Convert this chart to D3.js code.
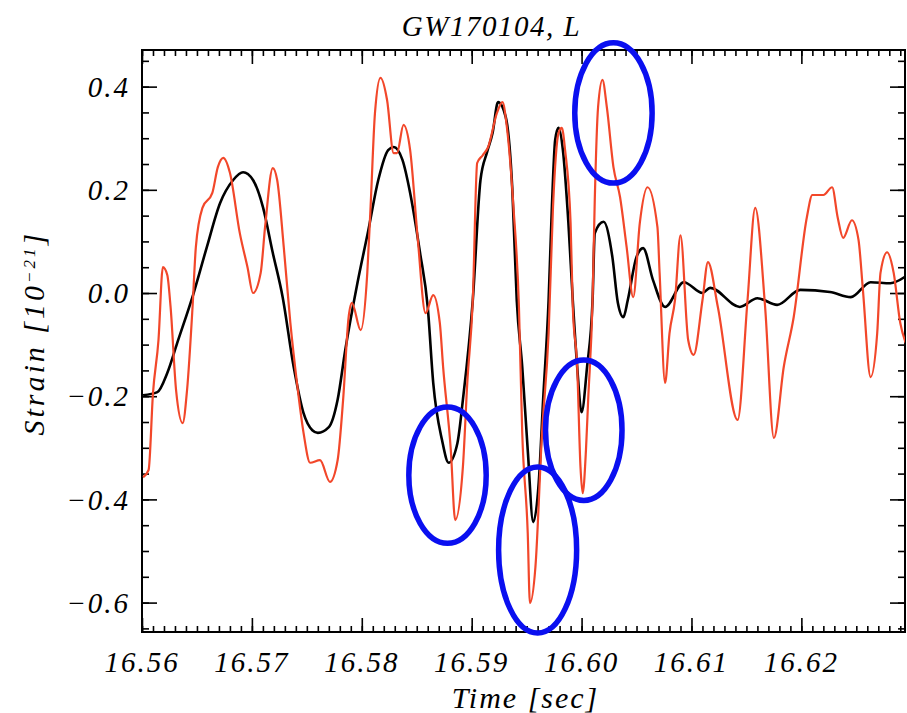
<!DOCTYPE html>
<html>
<head>
<meta charset="utf-8">
<script src="https://cdn.jsdelivr.net/npm/d3@7"></script>
<style>
  body { margin: 0; background: #fff; }
  text { font-family: "Liberation Serif", serif; font-style: italic; fill: #000; }
</style>
</head>
<body>
<svg></svg>
<script>
// Chart values
const titleText = "GW170104, L";
const xTickValues = [16.56, 16.57, 16.58, 16.59, 16.60, 16.61, 16.62];
const xTickLabels = ["16.56", "16.57", "16.58", "16.59", "16.60", "16.61", "16.62"];
const yTickValues = [0.4, 0.2, 0.0, -0.2, -0.4, -0.6];
const yTickLabels = ["0.4", "0.2", "0.0", "\u22120.2", "\u22120.4", "\u22120.6"];

// black: reconstructed waveform
const modelTime = [16.5601, 16.5614, 16.5623, 16.5632, 16.5647, 16.5659, 16.5671, 16.5683, 16.5692, 16.5701,
  16.5710, 16.5719, 16.5728, 16.5738, 16.5747, 16.5755, 16.5760, 16.5770, 16.5778, 16.5785,
  16.5796, 16.5806, 16.5815, 16.5824, 16.5829, 16.5837, 16.5844, 16.5853, 16.5860, 16.5865,
  16.5873, 16.5879, 16.5887, 16.5892, 16.5901, 16.5908, 16.5914, 16.5919, 16.5924, 16.5931,
  16.5937, 16.5941, 16.5946, 16.5951, 16.5956, 16.5961, 16.5965, 16.5970, 16.5973, 16.5976,
  16.5979, 16.5983, 16.5988, 16.5992, 16.5996, 16.6000, 16.6005, 16.6010, 16.6012, 16.6020,
  16.6028, 16.6033, 16.6038, 16.6042, 16.6050, 16.6056, 16.6065, 16.6076, 16.6093, 16.6110,
  16.6117, 16.6144, 16.6160, 16.6178, 16.6199, 16.6226, 16.6245, 16.6263, 16.6281, 16.6294];
const modelStrain = [-0.198, -0.192, -0.155, -0.097, 0.000, 0.089, 0.174, 0.219, 0.234, 0.219,
  0.167, 0.078, -0.008, -0.143, -0.233, -0.266, -0.271, -0.260, -0.207, -0.110,
  0.019, 0.122, 0.219, 0.277, 0.283, 0.258, 0.194, 0.078, -0.027, -0.174,
  -0.285, -0.329, -0.291, -0.207, -0.014, 0.219, 0.273, 0.310, 0.370, 0.341,
  0.200, -0.014, -0.143, -0.304, -0.444, -0.368, -0.207, -0.014, 0.167, 0.297,
  0.320, 0.277, 0.136, -0.014, -0.143, -0.231, -0.143, -0.014, 0.116, 0.138,
  0.070, -0.019, -0.047, -0.014, 0.070, 0.087, 0.025, -0.027, 0.021, 0.000,
  0.010, -0.027, -0.010, -0.023, 0.006, 0.002, -0.008, 0.021, 0.019, 0.031];

// red: whitened detector data
const dataTime = [16.5601, 16.5606, 16.5610, 16.5615, 16.5619, 16.5623, 16.5626, 16.5631, 16.5637, 16.5641,
  16.5646, 16.5649, 16.5655, 16.5664, 16.5669, 16.5674, 16.5680, 16.5689, 16.5696, 16.5701,
  16.5708, 16.5712, 16.5719, 16.5723, 16.5729, 16.5735, 16.5741, 16.5747, 16.5753, 16.5762,
  16.5771, 16.5778, 16.5783, 16.5788, 16.5791, 16.5799, 16.5805, 16.5808, 16.5812, 16.5817,
  16.5823, 16.5829, 16.5832, 16.5838, 16.5844, 16.5851, 16.5858, 16.5865, 16.5871, 16.5874,
  16.5881, 16.5885, 16.5892, 16.5896, 16.5901, 16.5905, 16.5910, 16.5915, 16.5923, 16.5928,
  16.5932, 16.5938, 16.5943, 16.5946, 16.5951, 16.5953, 16.5958, 16.5964, 16.5970, 16.5974,
  16.5979, 16.5982, 16.5985, 16.5990, 16.5992, 16.5996, 16.5999, 16.6001, 16.6004, 16.6006,
  16.6010, 16.6012, 16.6015, 16.6019, 16.6023, 16.6029, 16.6035, 16.6041, 16.6047, 16.6053,
  16.6060, 16.6069, 16.6071, 16.6076, 16.6080, 16.6085, 16.6090, 16.6097, 16.6102, 16.6110,
  16.6115, 16.6124, 16.6142, 16.6151, 16.6158, 16.6167, 16.6175, 16.6184, 16.6193, 16.6205,
  16.6210, 16.6220, 16.6228, 16.6233, 16.6238, 16.6246, 16.6252, 16.6256, 16.6263, 16.6269,
  16.6272, 16.6278, 16.6284, 16.6290, 16.6295];
const dataStrain = [-0.357, -0.343, -0.194, -0.091, 0.050, 0.035, -0.027, -0.188, -0.252, -0.188,
  -0.027, 0.089, 0.165, 0.194, 0.244, 0.262, 0.233, 0.116, 0.050, 0.000,
  0.039, 0.128, 0.242, 0.219, 0.089, -0.058, -0.174, -0.271, -0.329, -0.324,
  -0.366, -0.324, -0.207, -0.047, -0.019, -0.072, 0.039, 0.167, 0.349, 0.417,
  0.374, 0.271, 0.271, 0.326, 0.277, 0.103, -0.039, -0.004, -0.058, -0.143,
  -0.304, -0.440, -0.337, -0.174, -0.014, 0.252, 0.267, 0.283, 0.349, 0.370,
  0.322, 0.167, -0.027, -0.271, -0.465, -0.601, -0.531, -0.271, -0.078, 0.167,
  0.310, 0.320, 0.277, 0.136, -0.027, -0.143, -0.337, -0.388, -0.304, -0.207,
  -0.014, 0.180, 0.360, 0.413, 0.360, 0.244, 0.186, 0.089, -0.008, 0.136,
  0.205, 0.128, 0.039, -0.174, -0.078, -0.014, 0.112, -0.091, -0.120, -0.014,
  0.060, -0.027, -0.246, -0.014, 0.165, -0.027, -0.281, -0.143, -0.047, 0.147,
  0.190, 0.190, 0.205, 0.147, 0.107, 0.141, 0.103, 0.006, -0.163, -0.078,
  0.039, 0.079, 0.039, -0.058, -0.097];

// blue ellipses drawn over the figure (centre time, centre strain, half width in s, half height in strain)
const ringTime = [16.6029, 16.5878, 16.5960, 16.6002];
const ringStrain = [0.349, -0.353, -0.498, -0.266];
const ringHalfTime = [0.00352, 0.00352, 0.00355, 0.00348];
const ringHalfStrain = [0.136, 0.132, 0.161, 0.136];

// Set the dimensions of the canvas / graph
const margin = { top: 50, right: 2, bottom: 81, left: 142 },
  width = 907 - margin.left - margin.right,
  height = 713 - margin.top - margin.bottom;

const x = d3.scaleLinear().domain([16.56, 16.62943]).range([0, width]);
const y = d3.scaleLinear().domain([-0.657, 0.471]).range([height, 0]);

const svg = d3.select("svg")
  .attr("width", 907)
  .attr("height", 713)
  .append("g")
  .attr("transform", "translate(" + margin.left + "," + margin.top + ")");

svg.append("clipPath").attr("id", "plotclip")
  .append("rect").attr("width", width).attr("height", height);

// minor + major ticks, pointing inward on all four sides
const xMinor = d3.range(0, 70).map(i => 16.56 + i * 0.001).filter(v => v <= 16.62943);
const yMinor = d3.range(-13, 10).map(i => i * 0.05).filter(v => v >= -0.657 && v <= 0.471);

function tickAxis(axisFn, scale, vals, size) {
  return axisFn(scale).tickValues(vals).tickSize(size).tickFormat("");
}

const axisStyle = g => {
  g.select(".domain").remove();
  g.selectAll("line").attr("stroke", "#000").attr("stroke-width", 1.6);
};

// bottom and top
svg.append("g").attr("transform", "translate(0," + height + ")")
  .call(tickAxis(d3.axisTop, x, xMinor, 6)).call(axisStyle);
svg.append("g").attr("transform", "translate(0," + height + ")")
  .call(tickAxis(d3.axisTop, x, xTickValues, 14)).call(axisStyle);
svg.append("g")
  .call(tickAxis(d3.axisBottom, x, xMinor, 6)).call(axisStyle);
svg.append("g")
  .call(tickAxis(d3.axisBottom, x, xTickValues, 14)).call(axisStyle);
// left and right
svg.append("g")
  .call(tickAxis(d3.axisRight, y, yMinor, 7)).call(axisStyle);
svg.append("g")
  .call(tickAxis(d3.axisRight, y, yTickValues, 15)).call(axisStyle);
svg.append("g").attr("transform", "translate(" + width + ",0)")
  .call(tickAxis(d3.axisLeft, y, yMinor, 7)).call(axisStyle);
svg.append("g").attr("transform", "translate(" + width + ",0)")
  .call(tickAxis(d3.axisLeft, y, yTickValues, 15)).call(axisStyle);

// tick labels
svg.append("g").selectAll("text")
  .data(xTickValues)
  .join("text")
  .attr("x", d => x(d))
  .attr("y", height + 40)
  .attr("text-anchor", "middle")
  .style("font-size", "29px")
  .style("letter-spacing", "2px")
  .text((d, i) => xTickLabels[i]);

svg.append("g").selectAll("text")
  .data(yTickValues)
  .join("text")
  .attr("x", -12)
  .attr("y", d => y(d))
  .attr("dy", "0.35em")
  .attr("text-anchor", "end")
  .style("font-size", "29px")
  .style("letter-spacing", "2px")
  .text((d, i) => yTickLabels[i]);

// frame
svg.append("rect")
  .attr("width", width)
  .attr("height", height)
  .attr("fill", "none")
  .attr("stroke", "#000")
  .attr("stroke-width", 2);

// the two series
const modelLine = d3.line()
  .x((d, i) => x(modelTime[i]))
  .y(d => y(d))
  .curve(d3.curveMonotoneX);
const dataLine = d3.line()
  .x((d, i) => x(dataTime[i]))
  .y(d => y(d))
  .curve(d3.curveMonotoneX);

const plot = svg.append("g").attr("clip-path", "url(#plotclip)");
plot.append("path")
  .datum(modelStrain)
  .attr("d", modelLine)
  .attr("fill", "none")
  .attr("stroke", "#000")
  .attr("stroke-width", 2.6);
plot.append("path")
  .datum(dataStrain)
  .attr("d", dataLine)
  .attr("fill", "none")
  .attr("stroke", "#f2472a")
  .attr("stroke-width", 2.2);

// blue rings
svg.append("g").selectAll("ellipse")
  .data(ringTime)
  .join("ellipse")
  .attr("cx", d => x(d))
  .attr("cy", (d, i) => y(ringStrain[i]))
  .attr("rx", (d, i) => x(d + ringHalfTime[i]) - x(d))
  .attr("ry", (d, i) => y(0) - y(ringHalfStrain[i]))
  .attr("fill", "none")
  .attr("stroke", "#0a0ff0")
  .attr("stroke-width", 5.5);

// title and axis labels
svg.append("text")
  .attr("x", x(16.5918))
  .attr("y", -14)
  .attr("text-anchor", "middle")
  .style("font-size", "29px")
  .style("letter-spacing", "1.5px")
  .text(titleText);

svg.append("text")
  .attr("x", x(16.5949))
  .attr("y", height + 76)
  .attr("text-anchor", "middle")
  .style("font-size", "30px")
  .style("letter-spacing", "2px")
  .text("Time [sec]");

const ylab = svg.append("text")
  .attr("transform", "translate(-98," + y(-0.078) + ") rotate(-90)")
  .attr("text-anchor", "middle")
  .style("font-size", "30px")
  .style("letter-spacing", "3px");
ylab.append("tspan").text("Strain [10");
ylab.append("tspan").attr("baseline-shift", "super").style("font-size", "17px").text("\u221221");
ylab.append("tspan").text("]");
</script>
</body>
</html>
